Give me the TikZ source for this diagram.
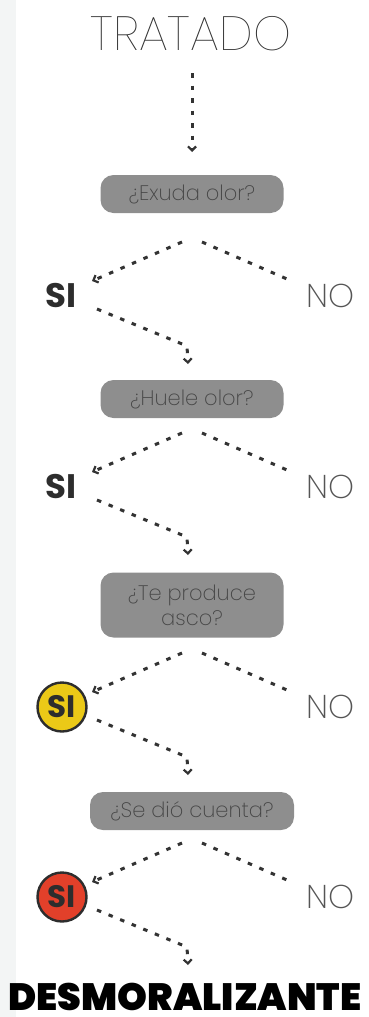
\documentclass[tikz,border=0pt]{standalone}
\usepackage{fontspec}
\setmainfont{Poppins}
\newfontfamily\thinf{Poppins}[UprightFont=* ExtraLight]
\newfontfamily\hairf{Poppins}[UprightFont=* Thin]
\newfontfamily\semif{Poppins}[UprightFont=* Bold]
\newfontfamily\blackf{Poppins}[UprightFont=* Black]
\usetikzlibrary{arrows.meta}
\definecolor{stripc}{HTML}{F3F5F5}
\definecolor{arrowc}{HTML}{333333}
\definecolor{boxc}{HTML}{8E8E8E}
\definecolor{boxt}{HTML}{454545}
\definecolor{lightt}{HTML}{303030}
\definecolor{noc}{HTML}{555555}
\definecolor{sic}{HTML}{2D2D2D}
\definecolor{yel}{HTML}{EBC917}
\definecolor{redc}{HTML}{E2402A}
\begin{document}
\begin{tikzpicture}[x=1pt,y=-1pt,
  flow/.style={draw=arrowc, line width=3pt, dash pattern=on 4.5pt off 8pt},
  tipped/.style={-{Straight Barb[length=4pt,width=8pt,line width=2.2pt]}},
  qbox/.style={fill=boxc, rounded corners=13pt, minimum width=183pt, minimum height=38pt, text=boxt, font=\thinf\fontsize{21}{25}\selectfont, align=center, inner sep=0pt},
  silab/.style={font=\semif\fontsize{34}{34}\selectfont, text=sic, inner sep=0pt},
  nolab/.style={font=\thinf\fontsize{33}{33}\selectfont, text=noc, inner sep=0pt},
  sicirc/.style={circle, draw=sic, line width=2.4pt, minimum size=49pt, inner sep=0pt, font=\semif\fontsize{31}{31}\selectfont, text=sic}
]
\fill[stripc] (0,0) rectangle (16,1017);
\useasboundingbox (0,0) rectangle (369,1017);

\node[font=\hairf\fontsize{48}{48}\selectfont, text=lightt, inner sep=0pt] (title) at (191,34) {TRATADO};
\coordinate (t0) at (192,73);
\coordinate (t1) at (192,152);
\draw[flow,tipped] (t0) -- (t1);

\node[qbox] (q1) at (192,194) {¿Exuda olor?};
\node[qbox] (q2) at (192,399) {¿Huele olor?};
\node[qbox, minimum height=65pt] (q3) at (192,605) {¿Te produce\\asco?};
\node[qbox, minimum width=204pt] (q4) at (192,811) {¿Se dió cuenta?};

\node[silab] (s1) at (61,296) {SI};
\node[silab] (s2) at (61,487) {SI};
\node[sicirc, fill=yel] (s3) at (62,707) {SI};
\node[sicirc, fill=redc] (s4) at (62,897) {SI};

\node[nolab] (n1) at (331,296) {NO};
\node[nolab] (n2) at (331,487) {NO};
\node[nolab] (n3) at (331,707) {NO};
\node[nolab] (n4) at (331,897) {NO};

\node[font=\blackf\fontsize{38}{38}\selectfont, text=black, inner sep=0pt] (end) at (185,997) {DESMORALIZANTE};

\foreach \i/\ty in {1/242,2/433,3/653,4/843}{
  \coordinate (la\i) at (182,\ty);
  \coordinate (lb\i) at (92,\ty+39);
  \coordinate (ra\i) at (202,\ty);
  \coordinate (rb\i) at (287,\ty+37);
  \coordinate (da\i) at (97,\ty+67);
  \coordinate (db\i) at (187,\ty+104);
  \coordinate (dc\i) at (188,\ty+122);
  \draw[flow,tipped] (la\i) -- (lb\i);
  \draw[flow] (ra\i) -- (rb\i);
  \draw[flow,tipped] (da\i) -- (db\i) -- (dc\i);
}
\end{tikzpicture}
\end{document}
